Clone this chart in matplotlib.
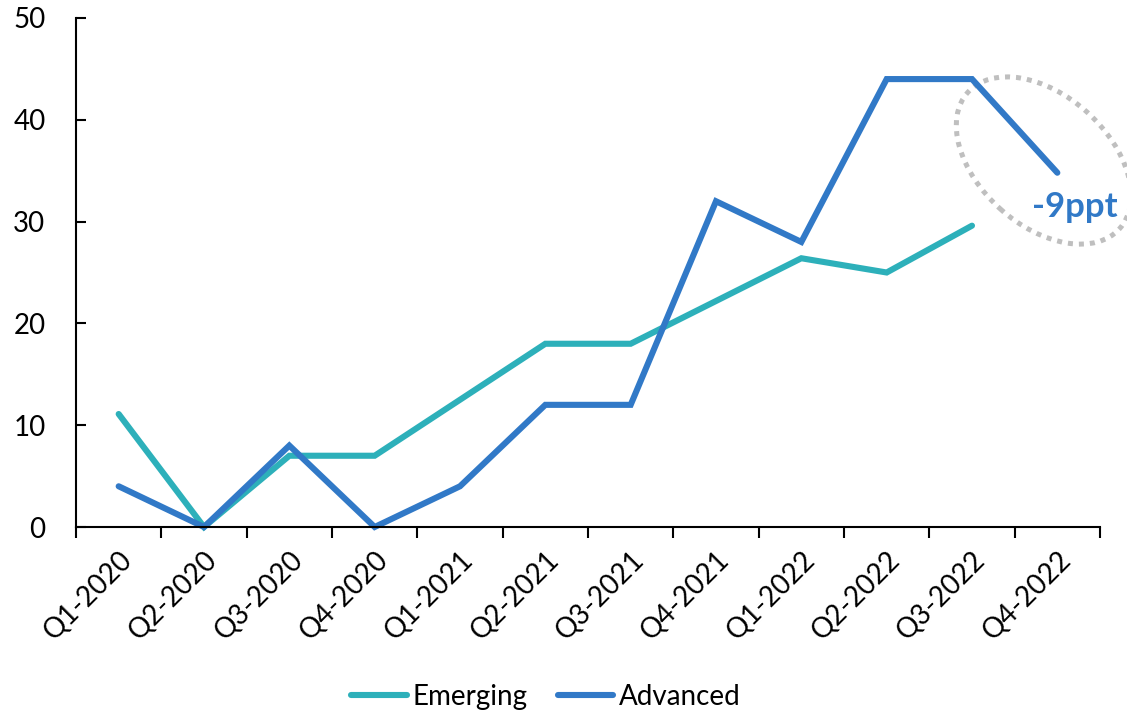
import matplotlib
matplotlib.use("Agg")
import matplotlib.pyplot as plt
import numpy as np
from matplotlib.patches import Ellipse
from matplotlib.transforms import ScaledTranslation

plt.rcParams['font.family'] = ['Lato', 'DejaVu Sans']

# data
quarters = ["Q1-2020", "Q2-2020", "Q3-2020", "Q4-2020",
            "Q1-2021", "Q2-2021", "Q3-2021", "Q4-2021",
            "Q1-2022", "Q2-2022", "Q3-2022", "Q4-2022"]
emerging = [11.1, 0, 7, 7, 12.5, 18, 18, 22.2, 26.4, 25, 29.6, np.nan]
advanced = [4, 0, 8, 0, 4, 12, 12, 32, 28, 44, 44, 34.8]

c_em = "#2DB0BA"
c_adv = "#3179C7"

fig = plt.figure(figsize=(11.27, 7.11), dpi=100)
ax = fig.add_axes([76 / 1127, 1 - 527 / 711, 1024 / 1127, 509 / 711])

x = np.arange(len(quarters))
ax.plot(x, emerging, color=c_em, lw=4.4, solid_capstyle="round",
        solid_joinstyle="miter", label="Emerging", clip_on=False)
ax.plot(x, advanced, color=c_adv, lw=4.4, solid_capstyle="round",
        solid_joinstyle="miter", label="Advanced", clip_on=False)

ax.set_xlim(-0.5, len(quarters) - 0.5)
ax.set_ylim(0, 50)
ax.set_yticks(range(0, 51, 10))
ax.tick_params(axis="y", direction="in", length=7, width=1.5, pad=22,
               labelsize=20)

ax.set_xticks(x)
ax.set_xticklabels(quarters, rotation=45, ha="right", rotation_mode="anchor",
                   fontsize=20)
ax.set_xticks(np.arange(-0.5, len(quarters)), minor=True)
ax.tick_params(axis="x", which="major", length=0, pad=14)
ax.tick_params(axis="x", which="minor", direction="out", length=8, width=1.5)

for s in ["top", "right"]:
    ax.spines[s].set_visible(False)
for s in ["left", "bottom"]:
    ax.spines[s].set_linewidth(1.5)

# annotation
ax.text(11.21, 31.4, "-9ppt", color=c_adv, fontsize=25, fontweight="bold",
        ha="center", va="center")
trans = fig.dpi_scale_trans + ScaledTranslation(10.84, 36.0, ax.transData)
ell = Ellipse((0, 0), 2.04, 1.30, angle=-42, transform=trans, fill=False,
              edgecolor="#BFBFBF", lw=3.6, linestyle=(0, (1, 1.2)),
              clip_on=False)
ax.add_patch(ell)

fig.legend(loc="center", bbox_to_anchor=(546 / 1127, 14 / 711), ncol=2,
           frameon=False, fontsize=20, handlelength=2.0, handletextpad=0.2,
           columnspacing=1.1)

fig.savefig("out.png", dpi=100)
